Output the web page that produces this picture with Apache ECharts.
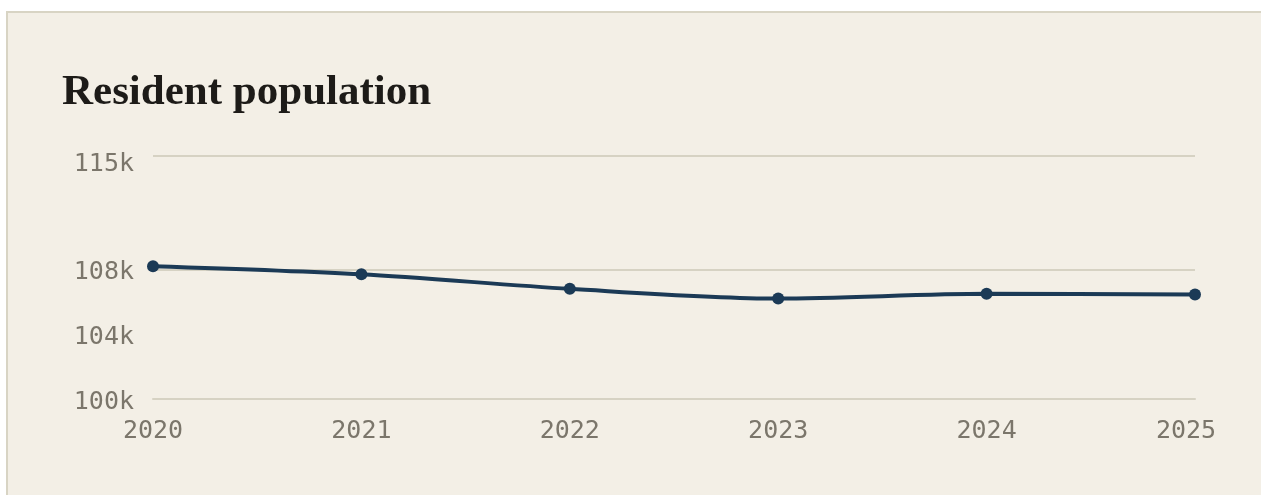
<!DOCTYPE html>
<html>
<head>
<meta charset="utf-8">
<title>Resident population</title>
<script src="https://cdn.jsdelivr.net/npm/echarts@6/dist/echarts.min.js"></script>
<style>
  html, body { margin: 0; padding: 0; background: #ffffff; }
  #panel {
    position: absolute; left: 6px; top: 11px; right: 0; bottom: 0;
    background: #f3efe6;
    border-top: 2px solid #d8d4c4;
    border-left: 2px solid #d8d4c4;
  }
  #chart { position: absolute; left: 0; top: 0; width: 1261px; height: 495px; }
</style>
</head>
<body>
<div id="panel"></div>
<div id="chart"></div>
<script>
// Resident population by year
const years = ['2020', '2021', '2022', '2023', '2024', '2025'];
const population = [108200, 107700, 106800, 106200, 106500, 106450];
const yLabelValues = [100000, 104000, 108000, 115000];
const yGridValues = [100000, 108000, 115000];

const chart = echarts.init(document.getElementById('chart'), null, { renderer: 'canvas' });

const monoFont = '"DejaVu Sans Mono", "Liberation Mono", monospace';
const labelColor = '#7b766b';
const gridColor = '#d6d2c3';
const lineColor = '#1b3a56';

const labelText = { fontFamily: monoFont, fontSize: 25, color: labelColor };

chart.setOption({
  backgroundColor: 'transparent',
  animation: false,
  title: {
    text: 'Resident population',
    left: 57,
    top: 66,
    textStyle: {
      fontFamily: '"Liberation Serif", "DejaVu Serif", serif',
      fontWeight: 'bold',
      fontSize: 43,
      color: '#1d1b18'
    }
  },
  grid: { left: 153, right: 66, top: 156, bottom: 96, containLabel: false },
  xAxis: {
    type: 'category',
    data: years,
    boundaryGap: false,
    axisLine: { show: true, lineStyle: { color: gridColor, width: 2 } },
    axisTick: { show: false },
    axisLabel: Object.assign({
      margin: 20,
      // the last year is nudged inward so it stays clear of the edge
      formatter: (v, i) => (i === years.length - 1 ? '{end|' + v + '}' : '{mid|' + v + '}'),
      rich: {
        mid: Object.assign({}, labelText),
        end: Object.assign({ padding: [0, 18, 0, 0] }, labelText)
      }
    }, labelText),
    splitLine: { show: false }
  },
  yAxis: {
    type: 'value',
    min: 100000,
    max: 115000,
    axisLine: { show: false },
    axisTick: { show: false, customValues: yGridValues },
    axisLabel: Object.assign({
      customValues: yLabelValues,
      margin: 19,
      formatter: v => {
        const t = Math.round(v / 1000) + 'k';
        return v === 115000 ? '{top|' + t + '}' : '{val|' + t + '}';
      },
      rich: {
        val: Object.assign({ padding: [7, 0, 0, 0] }, labelText),
        top: Object.assign({ padding: [17, 0, 0, 0] }, labelText)
      }
    }, labelText),
    splitLine: { show: true, lineStyle: { color: gridColor, width: 2 } }
  },
  series: [{
    type: 'line',
    data: population,
    smooth: 0.3,
    symbol: 'circle',
    symbolSize: 12,
    lineStyle: { color: lineColor, width: 4 },
    itemStyle: { color: lineColor }
  }]
});
</script>
</body>
</html>
